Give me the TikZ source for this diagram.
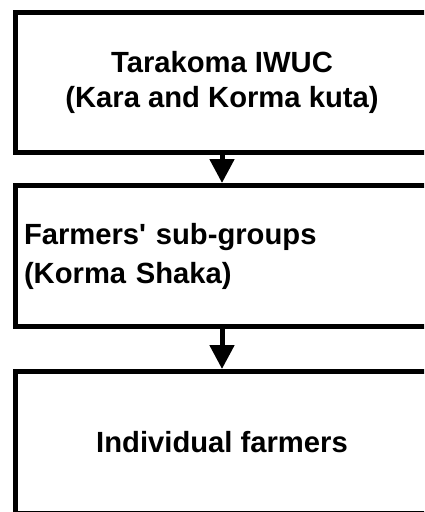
\documentclass[tikz,border=0pt]{standalone}
\usepackage{fontspec}
\setmainfont{Liberation Sans}
\usetikzlibrary{arrows.meta}
\begin{document}
\begin{tikzpicture}[x=1pt,y=1pt,
  tier/.style={draw=black, line width=5pt, rectangle, inner sep=0pt,
    minimum width=413pt, minimum height=140pt,
    font=\bfseries\fontsize{29.2}{35}\selectfont, align=center},
  flow/.style={draw=black, line width=5pt,
    -{Triangle[length=24pt 0 0, width=24pt 0 0]}}]
\useasboundingbox (0,0) rectangle (424,-512);
\fill[white] (0,0) rectangle (424,-512);
\clip (0,0) rectangle (424,-512);
% three levels of the organisation, top to bottom
\node[tier] (iwuc) at (222,-82) {Tarakoma IWUC\\(Kara and Korma kuta)};
\node[tier, minimum height=141pt, align=left, text width=396pt,
  inner xsep=8.5pt, font=\bfseries\fontsize{29.2}{39}\selectfont]
  (sub) at (222,-256) {Farmers\textquotesingle{} sub-groups\\(Korma Shaka)};
\node[tier, minimum height=142pt] (ind) at (222,-442.5) {Individual farmers};
% downward links
\draw[flow] (iwuc) -- (sub);
\draw[flow] (sub) -- (ind);
\end{tikzpicture}
\end{document}
